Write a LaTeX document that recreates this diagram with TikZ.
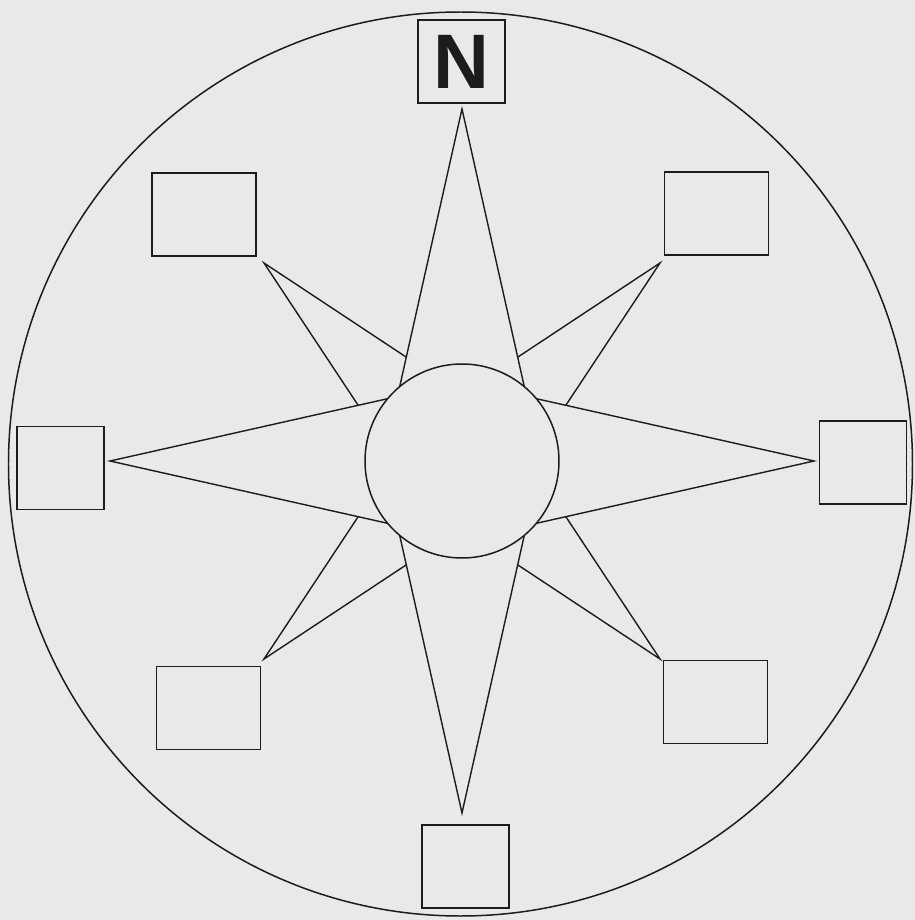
\documentclass[tikz,border=0pt]{standalone}
\usepackage{fontspec}
\setmainfont{Liberation Sans}
\usepackage{xcolor}
\usepackage{tikz}

\definecolor{paper}{RGB}{233,233,233}
\definecolor{ink}{RGB}{28,28,28}

\begin{document}
\begin{tikzpicture}[
    x=0.02cm, y=0.02cm,
    rim/.style={draw=ink, line width=0.85pt},
    ray/.style={draw=ink, fill=paper, line width=0.8pt, line join=miter},
    hub/.style={draw=ink, fill=paper, line width=0.85pt},
    cardbox/.style={draw=ink, line width=1.1pt, inner sep=0pt,
        minimum width=1.74cm, minimum height=1.66cm},
    diagbox/.style={cardbox, minimum width=2.08cm},
]

% =====================================================================
% Sheet and outer ring
% =====================================================================
\fill[paper] (-462,-459) rectangle (453,461);
\useasboundingbox (-462,-459) rectangle (453,461);
\draw[rim] (-1.5,-3) circle (452);

% =====================================================================
% Star: short diagonal points first, long points laid over them
% =====================================================================
\foreach \a in {45,135,225,315} {
    \draw[ray] (\a:280) -- (\a+90:57) -- (\a-90:57) -- cycle;
}
\foreach \a in {0,90,180,270} {
    \draw[ray] (\a:352) -- (\a+90:79) -- (\a-90:79) -- cycle;
}

% centre disc
\draw[hub] (0,0) circle (97);

% =====================================================================
% Direction boxes
% =====================================================================
\node[cardbox, text=ink] (boxN) at (-0.5,399.5)
    {\fontsize{44}{44}\selectfont\bfseries N};
\node[diagbox] (boxNE) at (254.5,247.5) {};
\node[cardbox] (boxE)  at (401,-1.5) {};
\node[diagbox] (boxSE) at (253.5,-241) {};
\node[cardbox] (boxS)  at (3.5,-405.5) {};
\node[diagbox] (boxSW) at (-253.5,-247) {};
\node[cardbox] (boxW)  at (-401.5,-7) {};
\node[diagbox] (boxNW) at (-258,246.5) {};

\end{tikzpicture}
\end{document}
